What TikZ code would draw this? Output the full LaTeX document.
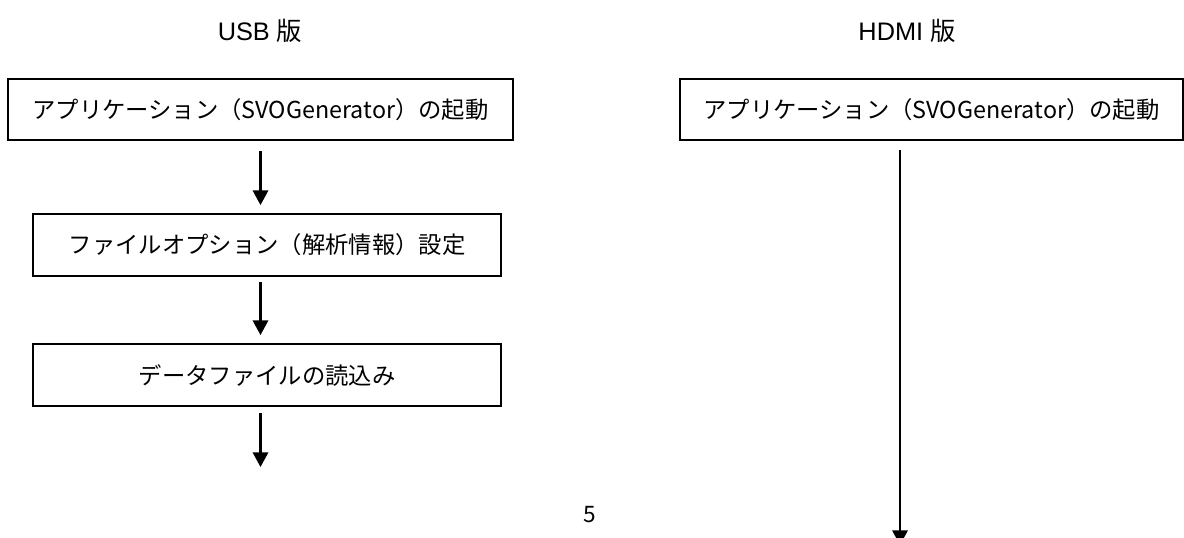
\documentclass[tikz,border=0pt]{standalone}
\usepackage{fontspec}
\setmainfont{Noto Sans CJK JP}
\newfontfamily\ttlfont{Liberation Sans}
\newfontfamily\jpfont{Noto Sans CJK JP}
\usetikzlibrary{arrows.meta}
\tikzset{
  stepbox/.style={draw=black, line width=1.4pt, inner sep=0pt, font=\jpfont\fontsize{17.5pt}{20pt}\selectfont},
  flowarrow/.style={line width=1.7pt, -{Triangle[width=11.5pt,length=11pt]}},
  titletext/.style={font=\fontsize{19pt}{22pt}\selectfont, inner sep=0pt}
}
\begin{document}
\begin{tikzpicture}[x=0.75pt,y=-0.75pt]
\useasboundingbox (0,0) rectangle (1184,537);
% titles
\node[titletext] (t1) at (260,31) {{\ttlfont USB }{\jpfont 版}};
\node[titletext] (t2) at (907,31) {{\ttlfont HDMI }{\jpfont 版}};
% USB column
\node[stepbox, minimum width={505*0.75pt}, minimum height={61*0.75pt}] (b1) at (260.5,109.5) {アプリケーション（SVOGenerator）の起動};
\node[stepbox, minimum width={468*0.75pt}, minimum height={62*0.75pt}] (b2) at (267,245) {ファイルオプション（解析情報）設定};
\node[stepbox, minimum width={468*0.75pt}, minimum height={62*0.75pt}] (b3) at (267,375) {データファイルの読込み};
\coordinate (e1) at (260.5,467);
\draw[flowarrow, shorten <=7.5pt, shorten >=6pt] (b1.south) -- (b1.south |- b2.north);
\draw[flowarrow, shorten <=4pt, shorten >=6pt] (b1.south |- b2.south) -- (b1.south |- b3.north);
\draw[flowarrow, shorten <=4.5pt] (b1.south |- b3.south) -- (e1);
% HDMI column
\node[stepbox, minimum width={503*0.75pt}, minimum height={61*0.75pt}] (h1) at (931.5,109.5) {アプリケーション（SVOGenerator）の起動};
\coordinate (s2) at (900,140);
\coordinate (e2) at (900,545);
\draw[flowarrow, shorten <=7.5pt] (s2) -- (e2);
% page number
\node[inner sep=0pt, font=\jpfont\fontsize{17pt}{19pt}\selectfont] (pn) at (590,515) {5};
\end{tikzpicture}
\end{document}
